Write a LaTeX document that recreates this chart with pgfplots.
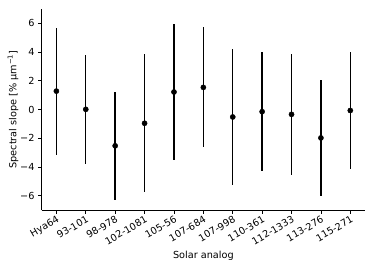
\documentclass[border=0pt]{standalone}
\usepackage{pgfplots}
\pgfplotsset{compat=1.18}
\usepackage{fontspec}
\setmainfont{DejaVu Sans}
\begin{document}
\begin{tikzpicture}
\begin{axis}[
 at={(0,0)}, anchor=south west,
 scale only axis, width=323.3pt, height=201pt,
 xmin=-0.5, xmax=10.5, ymin=-7, ymax=7,
 axis x line*=bottom, axis y line*=left,
 axis line style={-, line width=0.8pt, black},
 tick align=outside, major tick length=3.5pt,
 tick style={line width=0.8pt, black},
 xtick={0,1,2,3,4,5,6,7,8,9,10},
 xticklabels={Hya64,93-101,98-978,102-1081,105-56,107-684,107-998,110-361,112-1333,113-276,115-271},
 ytick={-6,-4,-2,0,2,4,6},
 yticklabels={−6,−4,−2,0,2,4,6},
 tick label style={font=\fontsize{9.7}{11}\selectfont},
 xticklabel style={rotate=30, anchor=north east, inner sep=0.5pt, xshift=-0.5pt, yshift=-1pt},
 yticklabel style={inner sep=0pt, xshift=-3.5pt},
 label style={font=\fontsize{9.7}{11}\selectfont},
 xlabel={Solar analog},
 xlabel style={at={(axis description cs:0.5,0)}, anchor=base, yshift=-48pt},
 ylabel={Spectral slope [\% μm\textsuperscript{−1}]},
 ylabel style={at={(axis description cs:-0.0718,0.5)}, anchor=south, inner sep=0pt},
 clip=false,
]
\addplot[black, only marks, mark=*, mark size=2.6pt,
 error bars/.cd, y dir=both, y explicit, error mark=none,
 error bar style={line width=1.4pt, black}]
 table[x=x, y=y, y error=e] {
x y e
0 1.28 4.42
1 0.01 3.78
2 -2.53 3.75
3 -0.96 4.82
4 1.22 4.73
5 1.54 4.18
6 -0.52 4.71
7 -0.15 4.15
8 -0.34 4.20
9 -1.98 4.06
10 -0.07 4.10
};
\end{axis}
\pgfresetboundingbox
\path (-41.7pt,-57pt) rectangle (332.3pt,210pt);
\end{tikzpicture}
\end{document}
